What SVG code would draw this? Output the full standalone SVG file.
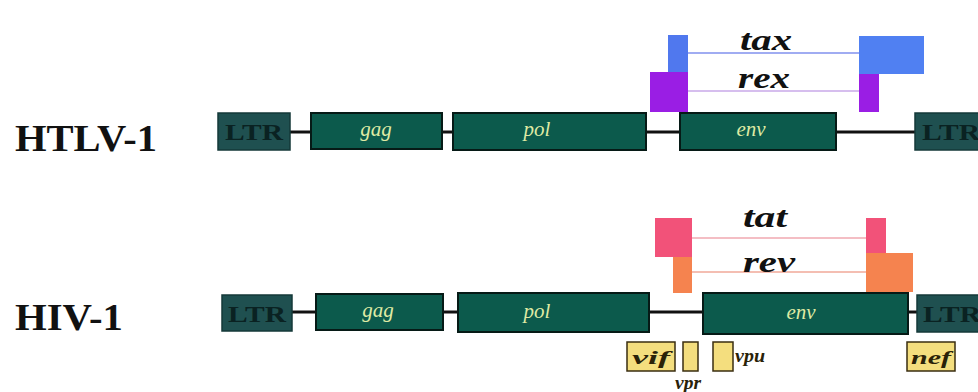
<svg xmlns="http://www.w3.org/2000/svg" width="978" height="392" viewBox="0 0 978 392">
<style>
.ltr{fill:#1f5050;stroke:#143838;stroke-width:1.5}
.gene{fill:#0c5a4c;stroke:#061a16;stroke-width:2}
.ltrt{font-family:"Liberation Serif","DejaVu Serif",serif;font-weight:bold;font-size:24px;fill:#0a2222}
.gt{font-family:"Liberation Serif","DejaVu Serif",serif;font-style:italic;font-size:21px;fill:#dfeaa4;text-anchor:middle}
.lab{font-family:"Liberation Serif","DejaVu Serif",serif;font-weight:bold;font-size:38px;fill:#111}
.rt{font-family:"Liberation Serif","DejaVu Serif",serif;font-weight:bold;font-style:italic;font-size:30px;fill:#111;text-anchor:middle}
.acc{fill:#f4de7e;stroke:#3a2e10;stroke-width:1.5}
.at{font-family:"Liberation Serif","DejaVu Serif",serif;font-weight:bold;font-style:italic;font-size:18px;fill:#2a2208}
.bb{stroke:#111;stroke-width:3}
</style>
<rect width="978" height="392" fill="#ffffff"/>
<g id="connectors">
<line class="bb" x1="290" y1="132" x2="311" y2="132"/>
<line class="bb" x1="442" y1="132" x2="453" y2="132"/>
<line class="bb" x1="646" y1="132" x2="680" y2="132"/>
<line class="bb" x1="836" y1="132" x2="915" y2="132"/>
<line class="bb" x1="292" y1="312" x2="316" y2="312"/>
<line class="bb" x1="443" y1="312" x2="458" y2="312"/>
<line class="bb" x1="649" y1="312" x2="703" y2="312"/>
<line class="bb" x1="908" y1="312" x2="917" y2="312"/>
<line x1="688" y1="53" x2="859" y2="53" stroke="#8090ee" stroke-width="1.5"/>
<line x1="688" y1="91" x2="859" y2="91" stroke="#c8a8e8" stroke-width="1.5"/>
<line x1="692" y1="238" x2="866" y2="238" stroke="#f0a8b0" stroke-width="1.5"/>
<line x1="692" y1="272" x2="866" y2="272" stroke="#f0a898" stroke-width="1.5"/>
</g>
<g id="label-htlv"><text class="lab" x="15" y="151" textLength="142" lengthAdjust="spacingAndGlyphs">HTLV-1</text></g>
<g id="label-hiv"><text class="lab" x="15" y="330" textLength="108" lengthAdjust="spacingAndGlyphs">HIV-1</text></g>
<g id="htlv-ltr5"><rect class="ltr" x="218" y="113" width="72" height="37"/><text class="ltrt" x="225" y="140" textLength="58" lengthAdjust="spacingAndGlyphs">LTR</text></g>
<g id="htlv-gag"><rect class="gene" x="311" y="113" width="131" height="36"/><text class="gt" x="376" y="136">gag</text></g>
<g id="htlv-pol"><rect class="gene" x="453" y="113" width="193" height="37"/><text class="gt" x="537" y="136">pol</text></g>
<g id="htlv-env"><rect class="gene" x="680" y="113" width="156" height="37"/><text class="gt" x="751" y="136">env</text></g>
<g id="htlv-ltr3"><rect class="ltr" x="915" y="113" width="70" height="37"/><text class="ltrt" x="922" y="140" textLength="58" lengthAdjust="spacingAndGlyphs">LTR</text></g>
<g id="htlv-tax"><rect x="668" y="35" width="20" height="37" fill="#5078ee"/><rect x="859" y="36" width="65" height="38" fill="#5080f2"/><text class="rt" x="766" y="50" textLength="52" lengthAdjust="spacingAndGlyphs">tax</text></g>
<g id="htlv-rex"><rect x="650" y="72" width="38" height="40" fill="#9a1ee4"/><rect x="859" y="74" width="20" height="38" fill="#9a1ee4"/><text class="rt" x="764" y="88" textLength="52" lengthAdjust="spacingAndGlyphs">rex</text></g>
<g id="hiv-ltr5"><rect class="ltr" x="222" y="295" width="70" height="36"/><text class="ltrt" x="228" y="322" textLength="58" lengthAdjust="spacingAndGlyphs">LTR</text></g>
<g id="hiv-gag"><rect class="gene" x="316" y="294" width="127" height="36"/><text class="gt" x="378" y="317">gag</text></g>
<g id="hiv-pol"><rect class="gene" x="458" y="293" width="191" height="39"/><text class="gt" x="537" y="318">pol</text></g>
<g id="hiv-env"><rect class="gene" x="703" y="293" width="205" height="41"/><text class="gt" x="801" y="319">env</text></g>
<g id="hiv-ltr3"><rect class="ltr" x="917" y="295" width="70" height="37"/><text class="ltrt" x="923" y="322" textLength="58" lengthAdjust="spacingAndGlyphs">LTR</text></g>
<g id="hiv-tat"><rect x="655" y="218" width="37" height="39" fill="#f25279"/><rect x="866" y="218" width="20" height="35" fill="#f25279"/><text class="rt" x="765" y="227" textLength="44" lengthAdjust="spacingAndGlyphs">tat</text></g>
<g id="hiv-rev"><rect x="673" y="257" width="19" height="36" fill="#f5834f"/><rect x="866" y="253" width="47" height="39" fill="#f5834f"/><text class="rt" x="769" y="272" textLength="52" lengthAdjust="spacingAndGlyphs">rev</text></g>
<g id="hiv-vif"><rect class="acc" x="627" y="342" width="48" height="29"/><text class="at" x="632" y="364" textLength="38" lengthAdjust="spacingAndGlyphs">vif</text></g>
<g id="hiv-vpr"><rect class="acc" x="683" y="342" width="15" height="29"/><text class="at" x="675" y="389" textLength="26" lengthAdjust="spacingAndGlyphs">vpr</text></g>
<g id="hiv-vpu"><rect class="acc" x="713" y="342" width="20" height="29"/><text class="at" x="735" y="362" textLength="30" lengthAdjust="spacingAndGlyphs">vpu</text></g>
<g id="hiv-nef"><rect class="acc" x="907" y="342" width="48" height="29"/><text class="at" x="911" y="364" textLength="40" lengthAdjust="spacingAndGlyphs">nef</text></g>
</svg>
